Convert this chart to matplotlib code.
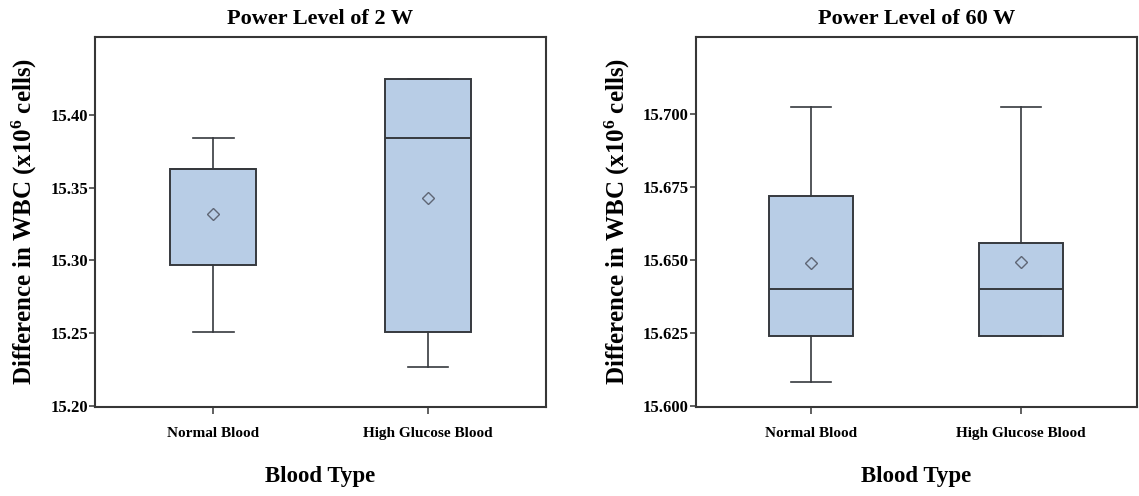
import matplotlib
matplotlib.use("Agg")
import matplotlib.pyplot as plt

# Blood groups on the x axis
categories = ["Normal Blood", "High Glucose Blood"]

# Five-number summaries and means, 2 W power level
w2_low = [15.251, 15.227]
w2_q1 = [15.297, 15.251]
w2_median = [15.363, 15.384]
w2_q3 = [15.363, 15.425]
w2_high = [15.384, 15.425]
w2_mean = [15.332, 15.343]
w2_ticks = [15.20, 15.25, 15.30, 15.35, 15.40]

# Five-number summaries and means, 60 W power level
w60_low = [15.608, 15.624]
w60_q1 = [15.624, 15.624]
w60_median = [15.640, 15.640]
w60_q3 = [15.672, 15.656]
w60_high = [15.7025, 15.7025]
w60_mean = [15.649, 15.6495]
w60_ticks = [15.600, 15.625, 15.650, 15.675, 15.700]

plt.rcParams["font.family"] = ["Liberation Serif", "DejaVu Serif"]
plt.rcParams["font.weight"] = "bold"
plt.rcParams["mathtext.fontset"] = "custom"
plt.rcParams["mathtext.rm"] = "Liberation Serif:bold"
plt.rcParams["mathtext.default"] = "rm"

FILL = "#b8cde6"
EDGE = "#36393e"
SPINE = "#363636"


def panel(ax, title, low, q1, med, q3, high, mean, ticks, ylim, fmt):
    stats = []
    for i, lab in enumerate(categories):
        stats.append(dict(label=lab, whislo=low[i], q1=q1[i], med=med[i],
                          q3=q3[i], whishi=high[i], mean=mean[i], fliers=[]))
    ax.bxp(stats, positions=[0, 1], widths=0.4, capwidths=0.19,
           showmeans=True, patch_artist=True,
           boxprops=dict(facecolor=FILL, edgecolor=EDGE, linewidth=1.4),
           medianprops=dict(color=EDGE, linewidth=1.4),
           whiskerprops=dict(color=EDGE, linewidth=1.2),
           capprops=dict(color=EDGE, linewidth=1.2),
           meanprops=dict(marker="D", markerfacecolor="none",
                          markeredgecolor="#5f6675", markersize=6.5,
                          markeredgewidth=1.0))
    ax.set_xlim(-0.55, 1.55)
    ax.set_ylim(*ylim)
    ax.set_yticks(ticks)
    ax.set_yticklabels([fmt.format(t) for t in ticks])
    ax.set_xticks([0, 1])
    ax.set_xticklabels(categories)
    ax.tick_params(axis="y", labelsize=12, length=4, width=1.1, color=SPINE, pad=1)
    ax.tick_params(axis="x", labelsize=11, length=5, width=1.1, color=SPINE, pad=9)
    for lab in ax.get_xticklabels() + ax.get_yticklabels():
        lab.set_fontweight("bold")
    for s in ax.spines.values():
        s.set_color(SPINE)
        s.set_linewidth(1.5)
    ax.set_title(title, fontsize=16, fontweight="bold", pad=9)
    ax.set_xlabel("Blood Type", fontsize=16.5, fontweight="bold", labelpad=19)
    ax.set_ylabel("Difference in WBC (x10$^{6}$ cells)", fontsize=18,
                  fontweight="bold", labelpad=8)


fig = plt.figure(figsize=(11.39, 4.96), dpi=100)
ax1 = fig.add_axes([0.0834, 0.179, 0.396, 0.747])
ax2 = fig.add_axes([0.611, 0.179, 0.387, 0.747])

panel(ax1, "Power Level of 2 W", w2_low, w2_q1, w2_median, w2_q3, w2_high,
      w2_mean, w2_ticks, (15.199, 15.454), "{:.2f}")
panel(ax2, "Power Level of 60 W", w60_low, w60_q1, w60_median, w60_q3,
      w60_high, w60_mean, w60_ticks, (15.5995, 15.7267), "{:.3f}")

fig.savefig("out.png", dpi=100)
